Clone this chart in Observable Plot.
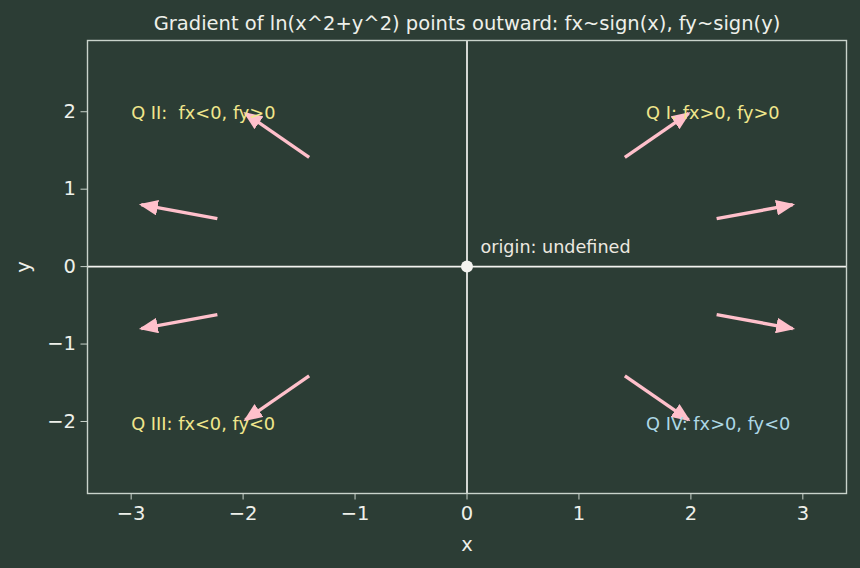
<!DOCTYPE html>
<html>
<head>
<meta charset="utf-8">
<script src="https://cdn.jsdelivr.net/npm/d3@7"></script>
<script src="https://cdn.jsdelivr.net/npm/@observablehq/plot@0.6"></script>
<style>
  html, body { margin: 0; padding: 0; background: #2c3d35; }
  #chart { width: 860px; height: 568px; }
  svg { background: #2c3d35; }
  svg text { font-family: 'DejaVu Sans', sans-serif; }
</style>
</head>
<body>
<div id="chart"></div>
<script>
// Arrow starts and ends
const arrowX1 = [1.41, 2.23, 2.23, 1.41, -1.41, -2.23, -2.23, -1.41];
const arrowY1 = [1.41, 0.62, -0.62, -1.41, 1.41, 0.62, -0.62, -1.41];
const arrowX2 = [1.98, 2.91, 2.91, 1.98, -1.98, -2.91, -2.91, -1.98];
const arrowY2 = [1.98, 0.80, -0.80, -1.98, 1.98, 0.80, -0.80, -1.98];

// Quadrant labels
const labelText = ["Q I: fx>0, fy>0", "Q II:  fx<0, fy>0", "Q III: fx<0, fy<0", "Q IV: fx>0, fy<0"];
const labelX = [1.6, -3.0, -3.0, 1.6];
const labelY = [1.98, 1.98, -2.03, -2.03];
const labelColor = ["#f0e68c", "#f0e68c", "#f0e68c", "#add8e6"];

const xTicks = [-3, -2, -1, 0, 1, 2, 3];
const yTicks = [-2, -1, 0, 1, 2];

const arrows = arrowX1.map((x1, i) => ({x1, y1: arrowY1[i], x2: arrowX2[i], y2: arrowY2[i]}));
const labels = labelText.map((t, i) => ({t, x: labelX[i], y: labelY[i], c: labelColor[i]}));

function triMarker(color) {
  const m = d3.create("svg:marker")
    .attr("viewBox", "-6 -5 12 10")
    .attr("markerUnits", "userSpaceOnUse")
    .attr("markerWidth", 19)
    .attr("markerHeight", 15.8)
    .attr("refX", 4.5)
    .attr("refY", 0)
    .attr("orient", "auto")
    .attr("fill", color)
    .attr("stroke", "none");
  m.append("path").attr("d", "M-6,-5L6,0L-6,5z");
  return m.node();
}

const fg = "#eef0ea";
const ff = "'DejaVu Sans', sans-serif";
const fmt = d => d < 0 ? "\u2212" + Math.abs(d) : String(d);
const chart = Plot.plot({
  width: 860,
  height: 568,
  marginLeft: 87,
  marginRight: 14,
  marginTop: 40,
  marginBottom: 75,
  style: {background: "#2c3d35", color: fg, fontFamily: ff, fontSize: "19px"},
  x: {domain: [-3.39, 3.39], ticks: xTicks, label: "x"},
  y: {domain: [-2.93, 2.92], ticks: yTicks, label: "y"},
  marks: [
    Plot.ruleX([0], {stroke: "#f4f4f0", strokeWidth: 1.7}),
    Plot.ruleY([0], {stroke: "#f4f4f0", strokeWidth: 1.7}),
    Plot.frame({stroke: "#c9d3cb", strokeWidth: 1.4}),
    Plot.axisX({ticks: xTicks, tickSize: 6.5, tickPadding: 6, fontSize: 19.5, fontFamily: ff, stroke: "#c9d3cb", label: "x", labelAnchor: "center", labelArrow: "none", labelOffset: 57, tickFormat: fmt}),
    Plot.axisY({ticks: yTicks, tickSize: 6.5, tickPadding: 5, fontSize: 19.5, fontFamily: ff, stroke: "#c9d3cb", label: "y", labelAnchor: "center", labelArrow: "none", labelOffset: 71, tickFormat: fmt}),
    Plot.link(arrows, {x1: "x1", y1: "y1", x2: "x2", y2: "y2", stroke: "#ffc0cb", strokeWidth: 3.4, markerEnd: triMarker}),
    Plot.dot([0], {x: 0, y: 0, r: 6, fill: "#f4f4f0", stroke: "none"}),
    Plot.text(labels, {x: "x", y: "y", text: "t", fill: "c", textAnchor: "start", fontSize: 17.8, fontFamily: ff, style: "white-space: pre"}),
    Plot.text(["origin: undefined"], {x: 0.12, y: 0.25, text: d => d, fill: "#ece9e0", textAnchor: "start", fontSize: 17.6, fontFamily: ff}),
    Plot.text(["Gradient of ln(x^2+y^2) points outward: fx~sign(x), fy~sign(y)"], {frameAnchor: "top", dy: -24, text: d => d, fill: fg, fontSize: 19.5, fontFamily: ff})
  ]
});
document.getElementById("chart").appendChild(chart);
</script>
</body>
</html>
